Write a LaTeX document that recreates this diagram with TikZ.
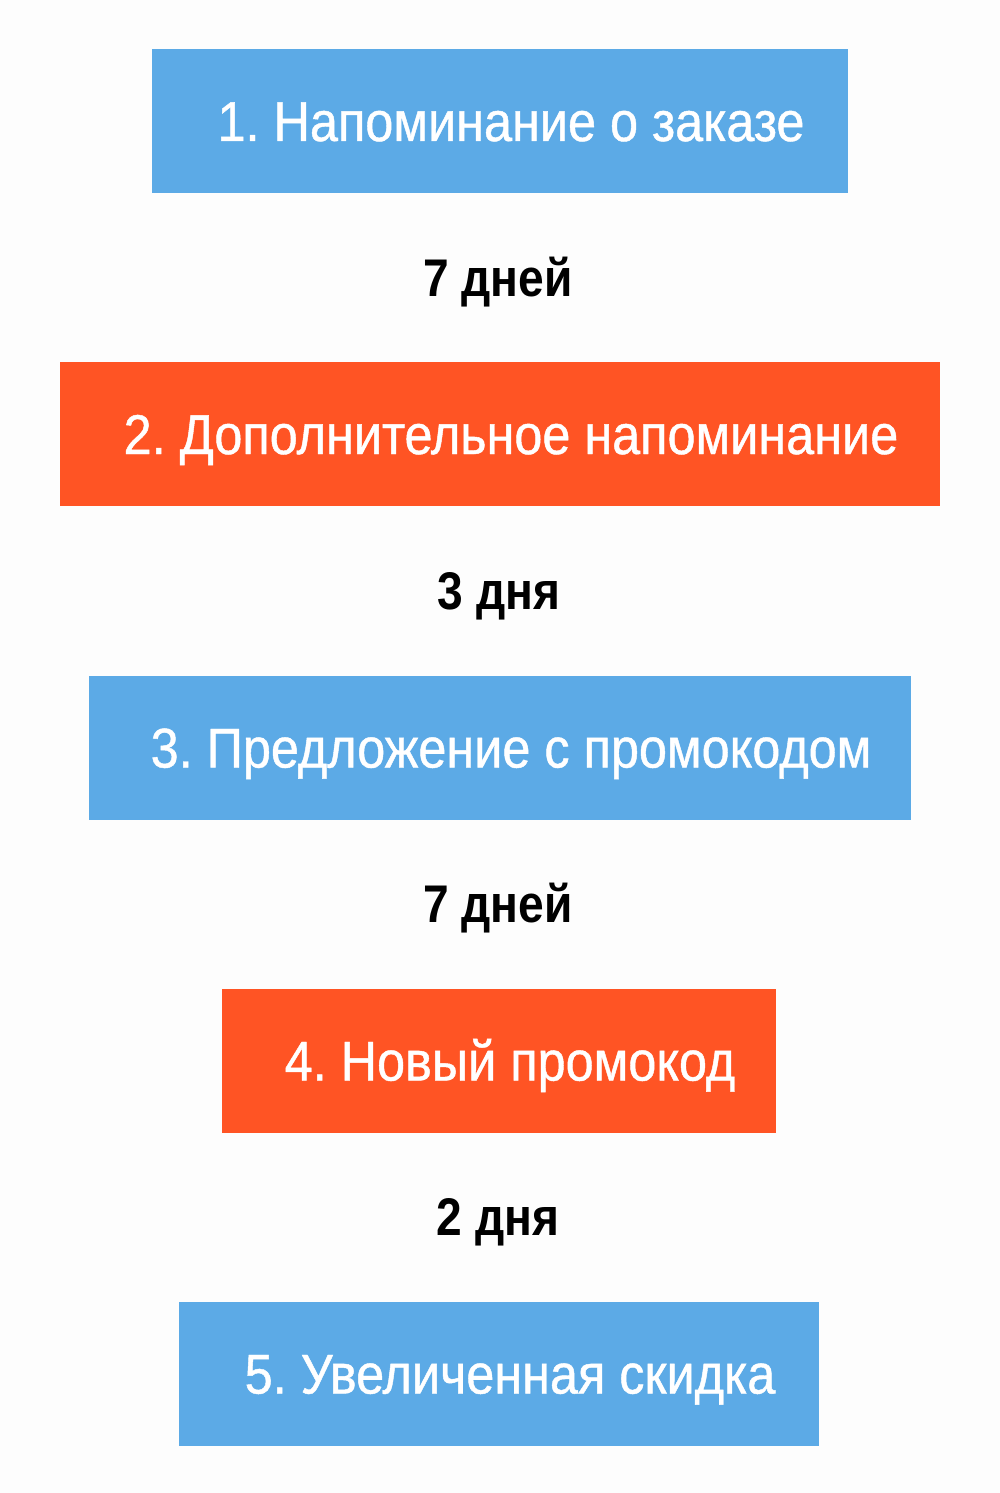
\documentclass[tikz,border=0pt]{standalone}
\usepackage{fontspec}
\setmainfont{Liberation Sans}
\newfontfamily\boxfont[FakeStretch=0.90,FakeBold=0.8]{Liberation Sans}
\newfontfamily\gapfont[FakeStretch=0.87]{Liberation Sans}
\definecolor{bgc}{RGB}{253,253,253}
\definecolor{stepblue}{RGB}{92,170,230}
\definecolor{steporange}{RGB}{255,84,36}
\begin{document}
\begin{tikzpicture}[x=1pt,y=-1pt,
  stepbox/.style={rectangle, inner sep=0pt, minimum height=144pt, text=white,
    font=\boxfont\fontsize{56}{60}\selectfont, text height=40pt, text depth=0pt},
  bluebox/.style={stepbox, fill=stepblue},
  orangebox/.style={stepbox, fill=steporange},
  gaplabel/.style={inner sep=0pt, text=black, font=\gapfont\bfseries\fontsize{53}{58}\selectfont,
    text height=38pt, text depth=0pt}]
\fill[bgc] (0,0) rectangle (1000,1493);
\useasboundingbox (0,0) rectangle (1000,1493);
\node[bluebox, minimum width=696pt] (b1) at (500,121) {\hspace*{22pt}1.\hspace{0.25em}Напоминание о заказе};
\node[gaplabel] (g1) at (498,277.5) {7 дней};
\node[orangebox, minimum width=880pt] (b2) at (500,434) {\hspace*{22pt}2.\hspace{0.25em}Дополнительное напоминание};
\node[gaplabel] (g2) at (499,590.5) {3 дня};
\node[bluebox, minimum width=822pt] (b3) at (500,747.5) {\hspace*{22pt}3.\hspace{0.25em}Предложение с промокодом};
\node[gaplabel] (g3) at (498,903.5) {7 дней};
\node[orangebox, minimum width=554pt] (b4) at (499,1060.5) {\hspace*{22pt}4.\hspace{0.25em}Новый промокод};
\node[gaplabel] (g4) at (498,1216.5) {2 дня};
\node[bluebox, minimum width=640pt] (b5) at (499,1373.5) {\hspace*{22pt}5.\hspace{0.25em}Увеличенная скидка};
\end{tikzpicture}
\end{document}
